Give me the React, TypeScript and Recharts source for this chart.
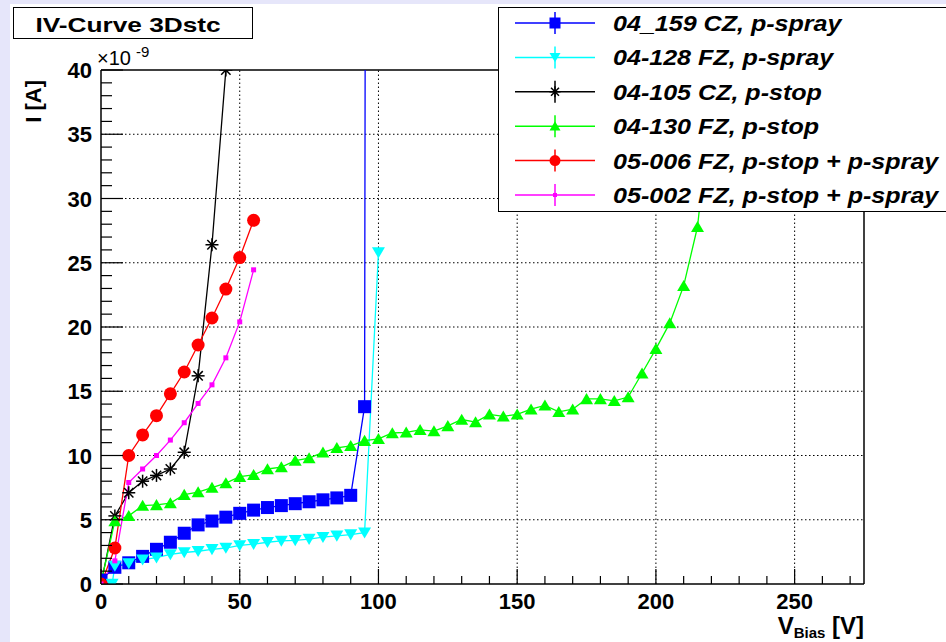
import React from "react";
import { LineChart, Line, XAxis, YAxis, ReferenceLine, Legend } from "recharts";

// bias voltage [V] and leakage current [nA] per sensor
const blueV = [0, 5, 10, 15, 20, 25, 30, 35, 40, 45, 50, 55, 60, 65, 70, 75, 80, 85, 90, 95, 95.5];
const blueI = [0.3, 1.3, 1.65, 2.15, 2.7, 3.25, 3.95, 4.6, 4.9, 5.2, 5.5, 5.75, 5.95, 6.1, 6.25, 6.4, 6.55, 6.7, 6.9, 13.8, 80];

const cyanV = [4, 5, 10, 15, 20, 25, 30, 35, 40, 45, 50, 55, 60, 65, 70, 75, 80, 85, 90, 95, 100];
const cyanI = [0, 1.4, 1.6, 1.9, 2.05, 2.3, 2.45, 2.55, 2.7, 2.8, 3.0, 3.1, 3.25, 3.35, 3.4, 3.5, 3.65, 3.75, 3.85, 4.0, 25.8];

const blackV = [0, 5, 10, 15, 20, 25, 30, 35, 40, 45];
const blackI = [0, 5.3, 7.1, 8.0, 8.45, 8.95, 10.25, 16.2, 26.4, 40];

const greenV = [
  0, 5, 10, 15, 20, 25, 30, 35, 40, 45, 50, 55, 60, 65, 70, 75, 80, 85, 90, 95, 100, 105, 110, 115,
  120, 125, 130, 135, 140, 145, 150, 155, 160, 165, 170, 175, 180, 185, 190, 195, 200, 205, 210, 215, 220, 225,
];
const greenI = [
  0.1, 4.9, 5.3, 6.1, 6.15, 6.3, 6.95, 7.15, 7.5, 7.85, 8.35, 8.5, 8.95, 9.1, 9.6, 9.8, 10.25, 10.6, 10.75, 11.15,
  11.3, 11.75, 11.8, 12.0, 11.9, 12.3, 12.8, 12.6, 13.2, 13.05, 13.2, 13.6, 13.9, 13.4, 13.6, 14.4, 14.4, 14.25,
  14.55, 16.4, 18.3, 20.3, 23.2, 27.8, 38, 60,
];

const redV = [0, 5, 10, 15, 20, 25, 30, 35, 40, 45, 50, 55];
const redI = [0, 2.8, 10, 11.6, 13.1, 14.8, 16.5, 18.6, 20.7, 22.95, 25.4, 28.3];

const magentaV = [0, 5, 10, 15, 20, 25, 30, 35, 40, 45, 50, 55];
const magentaI = [0, 1.8, 7.9, 8.95, 10, 11.2, 12.55, 14.05, 15.5, 17.6, 20.4, 24.45];

const xTicks = [0, 10, 20, 30, 40, 50, 60, 70, 80, 90, 100, 110, 120, 130, 140, 150, 160, 170, 180, 190, 200, 210, 220, 230, 240, 250, 260, 270];
const yTicks = [
  0, 1, 2, 3, 4, 5, 6, 7, 8, 9, 10, 11, 12, 13, 14, 15, 16, 17, 18, 19, 20,
  21, 22, 23, 24, 25, 26, 27, 28, 29, 30, 31, 32, 33, 34, 35, 36, 37, 38, 39, 40,
];
const xGrid = [50, 100, 150, 200, 250];
const yGrid = [5, 10, 15, 20, 25, 30, 35];

const FONT = "'Liberation Sans', Arial, Helvetica, sans-serif";

const toPoints = (v: number[], i: number[]) => v.map((x, k) => ({ v: x, i: i[k] }));

type Marker = "square" | "triDown" | "star" | "triUp" | "circle" | "dot";

const series: { name: string; data: { v: number; i: number }[]; color: string; marker: Marker }[] = [
  { name: "04_159 CZ, p-spray", data: toPoints(blueV, blueI), color: "#0000ff", marker: "square" },
  { name: "04-128 FZ, p-spray", data: toPoints(cyanV, cyanI), color: "#00ffff", marker: "triDown" },
  { name: "04-105 CZ, p-stop", data: toPoints(blackV, blackI), color: "#000000", marker: "star" },
  { name: "04-130 FZ, p-stop", data: toPoints(greenV, greenI), color: "#00ff00", marker: "triUp" },
  { name: "05-006 FZ, p-stop + p-spray", data: toPoints(redV, redI), color: "#ff0000", marker: "circle" },
  { name: "05-002 FZ, p-stop + p-spray", data: toPoints(magentaV, magentaI), color: "#ff00ff", marker: "dot" },
];

function markerShape(kind: Marker, cx: number, cy: number, color: string, s: number) {
  const h = s / 2;
  switch (kind) {
    case "square":
      return <rect x={cx - h} y={cy - h} width={s} height={s} fill={color} />;
    case "triDown":
      return <polygon points={`${cx - h},${cy - h * 0.8} ${cx + h},${cy - h * 0.8} ${cx},${cy + h * 0.9}`} fill={color} />;
    case "triUp":
      return <polygon points={`${cx - h},${cy + h * 0.8} ${cx + h},${cy + h * 0.8} ${cx},${cy - h * 0.9}`} fill={color} />;
    case "circle":
      return <circle cx={cx} cy={cy} r={h} fill={color} />;
    case "dot":
      return <rect x={cx - h} y={cy - h} width={s} height={s} fill={color} />;
    case "star": {
      const d = h * 0.72;
      return (
        <g stroke={color} strokeWidth={1.5}>
          <line x1={cx - h} y1={cy} x2={cx + h} y2={cy} />
          <line x1={cx} y1={cy - h} x2={cx} y2={cy + h} />
          <line x1={cx - d} y1={cy - d} x2={cx + d} y2={cy + d} />
          <line x1={cx - d} y1={cy + d} x2={cx + d} y2={cy - d} />
        </g>
      );
    }
  }
  return null;
}

const dotSize: Record<Marker, number> = { square: 13, triDown: 13, star: 13, triUp: 13, circle: 13, dot: 5 };

const makeDot = (kind: Marker, color: string) => (props: any) => {
  const { cx, cy, index, payload } = props;
  if (payload.i > 41 || cx == null || cy == null) return <g key={`d-${index}`} />;
  return <g key={`d-${index}`}>{markerShape(kind, cx, cy, color, dotSize[kind])}</g>;
};

function XTick(props: any) {
  const { x, y, payload } = props;
  const major = payload.value % 50 === 0;
  return (
    <g>
      <line x1={x} x2={x} y1={y} y2={y - (major ? 15 : 8)} stroke="#000" strokeWidth={1.2} />
      {major && (
        <text x={x} y={y + 25} textAnchor="middle" fontSize={22} fontWeight="bold" fontFamily={FONT} fill="#000">
          {payload.value}
        </text>
      )}
    </g>
  );
}

function YTick(props: any) {
  const { x, y, payload } = props;
  const major = payload.value % 5 === 0;
  return (
    <g>
      <line x1={x} x2={x + (major ? 22 : 11)} y1={y} y2={y} stroke="#000" strokeWidth={1.2} />
      {major && (
        <text x={x - 9} y={y + 8} textAnchor="end" fontSize={22} fontWeight="bold" fontFamily={FONT} fill="#000">
          {payload.value}
        </text>
      )}
    </g>
  );
}

const renderYLabel = (props: any) => {
  const vb = props.viewBox;
  const left = vb.x + vb.width;
  const top = vb.y;
  return (
    <g fontFamily={FONT} fill="#000">
      <text transform={`translate(41, ${top + 10}) rotate(-90)`} textAnchor="end" fontSize={22} fontWeight="bold">
        I [A]
      </text>
      <text x={left - 4} y={top - 5} fontSize={20}>
        ×10
      </text>
      <text x={left + 35} y={top - 13} fontSize={15}>
        -9
      </text>
    </g>
  );
};

const renderXLabel = (props: any) => {
  const vb = props.viewBox;
  return (
    <text x={vb.x + vb.width} y={vb.y + 50} textAnchor="end" fontFamily={FONT} fontWeight="bold" fill="#000">
      <tspan fontSize={24}>V</tspan>
      <tspan fontSize={15} dy={4}>Bias</tspan>
      <tspan fontSize={24} dy={-4}> [V]</tspan>
    </text>
  );
};

const renderLegend = (props: any) => {
  const order = (n: string) => series.findIndex((s) => s.name === n);
  const items = [...(props.payload || [])].sort((a: any, b: any) => order(a.value) - order(b.value));
  return (
    <div
      style={{
        width: 448,
        height: 205,
        boxSizing: "border-box",
        background: "#fff",
        borderTop: "1.5px solid #000",
        borderLeft: "1.5px solid #000",
        borderBottom: "1.5px solid #000",
        overflow: "hidden",
      }}
    >
      <svg width={448} height={202} style={{ display: "block" }}>
        {items.map((it: any, k: number) => {
          const s = series[order(it.value)];
          const cy = 15 + k * 34.4;
          return (
            <g key={it.value}>
              <line x1={16} x2={96} y1={cy} y2={cy} stroke={it.color} strokeWidth={1.5} />
              <line x1={56} x2={56} y1={cy - 11} y2={cy + 11} stroke={it.color} strokeWidth={1.5} />
              {markerShape(s.marker, 56, cy, it.color, s.marker === "dot" ? 4 : 11)}
              <text
                transform={`translate(114, ${cy + 8}) scale(1.14, 1)`}
                fontSize={22}
                fontWeight="bold"
                fontStyle="italic"
                fontFamily={FONT}
                fill="#000"
              >
                {it.value}
              </text>
            </g>
          );
        })}
      </svg>
    </div>
  );
};

export default function App() {
  return (
    <div style={{ position: "absolute", left: 0, top: 0, width: 946, height: 642, background: "#e6e6fa", overflow: "hidden" }}>
      <div style={{ position: "absolute", left: 10, top: 4, right: 0, bottom: 0, background: "#fff" }} />
      <div
        style={{
          position: "absolute",
          left: 13,
          top: 7,
          width: 240,
          height: 32,
          boxSizing: "border-box",
          border: "1.5px solid #000",
          background: "#fff",
        }}
      >
        <svg width={237} height={29} style={{ display: "block" }}>
          <text
            transform="translate(114, 23.5) scale(1.25, 1)"
            textAnchor="middle"
            fontSize={21}
            fontWeight="bold"
            fontFamily={FONT}
            fill="#000"
          >
            IV-Curve 3Dstc
          </text>
        </svg>
      </div>
      <div style={{ position: "absolute", left: 0, top: 0 }}>
        <LineChart width={946} height={642} margin={{ top: 70, right: 82, bottom: 28, left: 51 }}>
          <XAxis
            type="number"
            dataKey="v"
            domain={[0, 275]}
            ticks={xTicks}
            interval={0}
            allowDataOverflow
            tickSize={0}
            tickMargin={0}
            tickLine={false}
            tick={<XTick />}
            height={30}
            axisLine={{ stroke: "#000", strokeWidth: 1.5 }}
            label={{ content: renderXLabel }}
          />
          <YAxis
            type="number"
            dataKey="i"
            domain={[0, 40]}
            ticks={yTicks}
            interval={0}
            allowDataOverflow
            tickSize={0}
            tickMargin={0}
            tickLine={false}
            tick={<YTick />}
            width={50}
            axisLine={{ stroke: "#000", strokeWidth: 1.5 }}
            label={{ content: renderYLabel }}
          />
          {yGrid.map((g) => (
            <ReferenceLine key={`gy${g}`} y={g} stroke="#000" strokeWidth={1} strokeDasharray="1.5 2.5" />
          ))}
          {xGrid.map((g) => (
            <ReferenceLine key={`gx${g}`} x={g} stroke="#000" strokeWidth={1} strokeDasharray="1.5 2.5" />
          ))}
          <ReferenceLine y={40} stroke="#000" strokeWidth={1.5} />
          <ReferenceLine x={275} stroke="#000" strokeWidth={1.5} />
          {series.map((s) => (
            <Line
              key={s.name}
              data={s.data}
              dataKey="i"
              name={s.name}
              type="linear"
              stroke={s.color}
              strokeWidth={1.3}
              dot={makeDot(s.marker, s.color)}
              activeDot={false}
              isAnimationActive={false}
            />
          ))}
          <Legend
            layout="vertical"
            align="center"
            verticalAlign="middle"
            width={448}
            height={205}
            wrapperStyle={{ left: 498, top: 7 }}
            content={renderLegend}
          />
        </LineChart>
      </div>
    </div>
  );
}
